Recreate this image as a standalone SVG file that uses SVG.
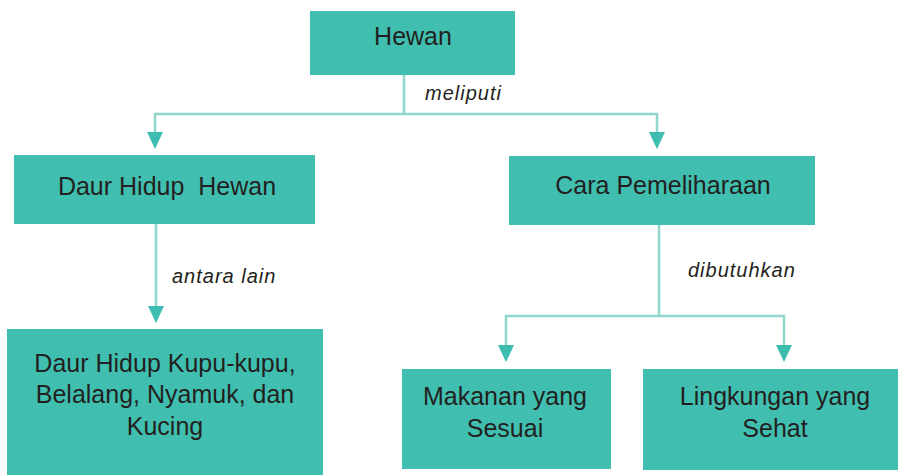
<svg xmlns="http://www.w3.org/2000/svg" width="898" height="475" viewBox="0 0 898 475">
<defs>
<style>
.box{fill:#40bfb0;}
.t{font-family:"Liberation Sans",Arial,sans-serif;font-size:25px;fill:#231f20;text-anchor:middle;white-space:pre;}
.lbl{font-family:"Liberation Sans",Arial,sans-serif;font-size:20px;font-style:italic;fill:#231f20;letter-spacing:1px;white-space:pre;}
.ln{fill:none;stroke:#8fd6cc;stroke-width:2.5;marker-end:url(#ah);}
</style>
<marker id="ah" markerUnits="userSpaceOnUse" markerWidth="17" markerHeight="16" viewBox="0 0 17 16" refX="0" refY="8" orient="auto">
<path d="M0,0 L17,8 L0,16 Z" fill="#3dbdaf"/>
</marker>
</defs>
<rect width="898" height="475" fill="#ffffff"/>
<g id="connectors">
<path class="ln" d="M404,75 V114 H155 V132"/>
<path class="ln" d="M404,114 H657 V132"/>
<path class="ln" d="M156,224 V306"/>
<path class="ln" d="M659,225 V316 H506 V345"/>
<path class="ln" d="M659,316 H784 V345"/>
<text class="lbl" x="425" y="100">meliputi</text>
<text class="lbl" x="172" y="283">antara lain</text>
<text class="lbl" x="688" y="277">dibutuhkan</text>
</g>
<g id="hewan">
<rect class="box" x="310" y="11" width="205" height="64"/>
<text class="t" x="413" y="45">Hewan</text>
</g>
<g id="daur-hidup-hewan">
<rect class="box" x="14" y="155" width="301" height="69"/>
<text class="t" x="167" y="195">Daur Hidup  Hewan</text>
</g>
<g id="cara-pemeliharaan">
<rect class="box" x="509" y="156" width="306" height="69"/>
<text class="t" x="663" y="194">Cara Pemeliharaan</text>
</g>
<g id="daur-hidup-kupu">
<rect class="box" x="7" y="329" width="316" height="146"/>
<text class="t" x="165" y="372">Daur Hidup Kupu-kupu,</text>
<text class="t" x="165" y="403">Belalang, Nyamuk, dan</text>
<text class="t" x="165" y="435">Kucing</text>
</g>
<g id="makanan">
<rect class="box" x="402" y="369" width="209" height="100"/>
<text class="t" x="505" y="405">Makanan yang</text>
<text class="t" x="505" y="437">Sesuai</text>
</g>
<g id="lingkungan">
<rect class="box" x="643" y="369" width="255" height="101"/>
<text class="t" x="775" y="405">Lingkungan yang</text>
<text class="t" x="775" y="437">Sehat</text>
</g>
</svg>
